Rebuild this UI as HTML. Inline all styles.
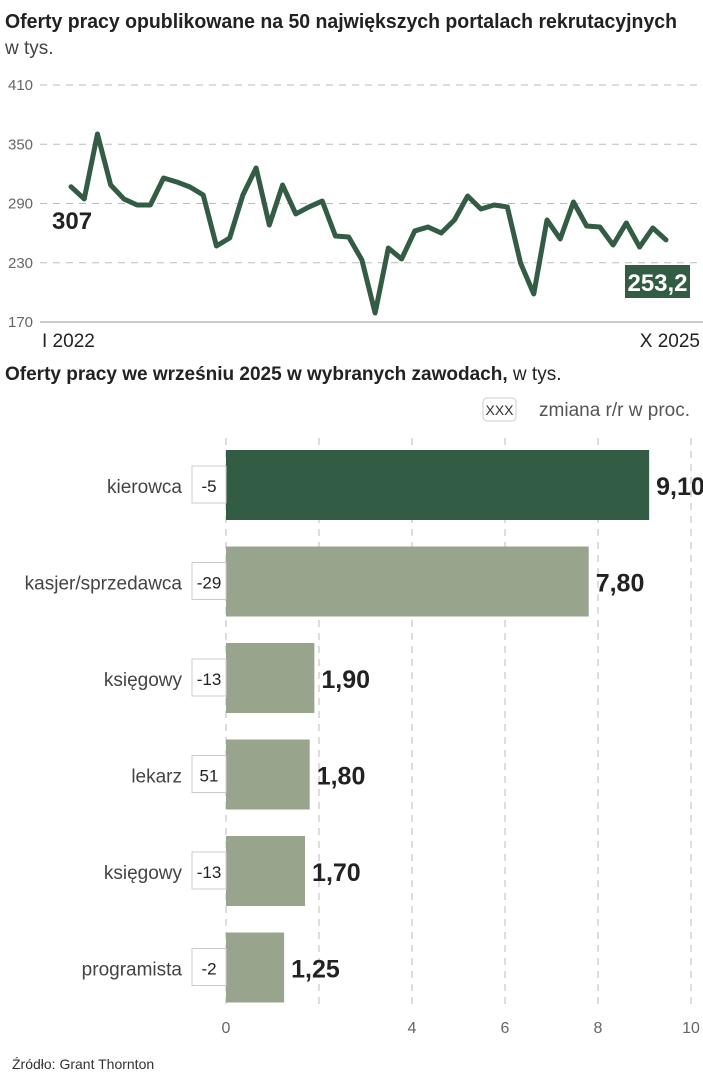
<!DOCTYPE html>
<html><head><meta charset="utf-8"><style>
body{margin:0;background:#fff;width:703px;height:1080px;overflow:hidden}
svg{display:block}
.t{font-family:"Liberation Sans Narrow","Liberation Sans",sans-serif}
</style></head><body>
<svg id="c" width="703" height="1080" class="t">
<text x="5" y="28" font-size="20" font-weight="bold" fill="#222" textLength="672" lengthAdjust="spacingAndGlyphs">Oferty pracy opublikowane na 50 największych portalach rekrutacyjnych</text>
<text x="5" y="54" font-size="19" fill="#444">w tys.</text>
<text x="5" y="380" font-size="19" fill="#222"><tspan font-weight="bold">Oferty pracy we wrześniu 2025 w wybranych zawodach,</tspan> w tys.</text>
<rect x="483" y="398" width="33" height="23" rx="4" fill="#fff" stroke="#ccc"/>
<text x="499.5" y="415" font-size="14" text-anchor="middle" fill="#333">XXX</text>
<text x="690" y="416" font-size="19" text-anchor="end" fill="#555">zmiana r/r w proc.</text>
<text x="12" y="1069" font-size="14" fill="#333">Źródło: Grant Thornton</text>
<g id="line"></g><g id="bars"></g>
</svg>
<script>
const months=["I 2022","X 2025"];
const lineValues=[307,294.6,360.4,308.7,294.6,288.5,288.5,315.8,311.8,306.7,298.6,247,255.1,298.6,326,268.2,308.7,279.4,286.5,292.5,257.1,256.1,232.8,179.1,244.9,233.8,262.2,266.2,260.1,273.3,297.6,284.4,288.5,286.5,229.7,198.4,273.3,254.1,291.5,267.2,266.2,248,270.3,245.9,265.2,253.2];
const yTicks=[410,350,290,230,170];
const categories=["kierowca","kasjer/sprzedawca","księgowy","lekarz","księgowy","programista"];
const barValues=[9.10,7.80,1.90,1.80,1.70,1.25];
const changes=["-5","-29","-13","51","-13","-2"];
const xTicks=[0,2,4,6,8,10];
const xTickLabels=["0","","4","6","8","10"];
const NS="http://www.w3.org/2000/svg";
function mk(t,a,p,txt){const e=document.createElementNS(NS,t);for(const k in a)e.setAttribute(k,a[k]);if(txt!==undefined)e.textContent=txt;p.appendChild(e);return e;}
const L=document.getElementById('line');
const ly=v=>85+(410-v)*0.9875;
const lx=i=>71+i*(666-71)/(lineValues.length-1);
yTicks.forEach((t,i)=>{
  const last=i==yTicks.length-1;
  const g=mk('line',{x1:40,x2:703,y1:ly(t),y2:ly(t),stroke:last?'#999':'#bbb','stroke-dasharray':last?'':'7,6','stroke-width':1},L);
  
  
  const tx=mk('text',{x:8,y:ly(t)+5,'font-size':15,fill:'#666'},L,String(t));
  
  
});
const pth=mk('polyline',{points:lineValues.map((v,i)=>lx(i)+','+ly(v)).join(' '),fill:'none',stroke:'#335c45','stroke-width':5,'stroke-linejoin':'round','stroke-linecap':'round'},L);


const x1=mk('text',{x:42,y:347,'font-size':19,fill:'#222'},L,months[0]);


const x2=mk('text',{x:700,y:347,'font-size':19,fill:'#222','text-anchor':'end'},L,months[1]);


const fv=mk('text',{x:52,y:229,'font-size':24,'font-weight':'bold',fill:'#222'},L,String(lineValues[0]).replace('.',','));


const lb=mk('rect',{x:625,y:265,width:65,height:33,fill:'#335c45'},L);


const lv=mk('text',{x:657.5,y:291,'font-size':24,'font-weight':'bold',fill:'#fff','text-anchor':'middle'},L,String(lineValues[lineValues.length-1]).replace('.',','));


const B=document.getElementById('bars');
const bx=v=>226+v*46.5;
xTicks.forEach((t,i)=>{
  const g=mk('line',{x1:bx(t),x2:bx(t),y1:438,y2:1008,stroke:'#bbb','stroke-dasharray':'7,6'},B);
  
  
  const tx=mk('text',{x:bx(t),y:1033,'font-size':16,fill:'#666','text-anchor':'middle'},B,xTickLabels[i]);
  
  
});
categories.forEach((c,i)=>{
  const top=450+i*96.5;
  const r=mk('rect',{x:bx(0),y:top,width:bx(barValues[i])-bx(0),height:70,fill:i==0?'#335c45':'#98a48b'},B);
  
  
  const bxr=mk('rect',{x:192,y:top+16,width:34,height:37,fill:'#fff',stroke:'#ccc'},B);
  
  
  const ct=mk('text',{x:209,y:top+42,'font-size':17,fill:'#222','text-anchor':'middle'},B,changes[i]);
  
  
  const lt=mk('text',{x:182,y:top+43,'font-size':19,fill:'#444','text-anchor':'end'},B,c);
  
  
  const vt=mk('text',{x:bx(barValues[i])+7,y:top+45,'font-size':25,'font-weight':'bold',fill:'#222'},B,barValues[i].toFixed(2).replace('.',','));
  
  
});
</script>
</body></html>
